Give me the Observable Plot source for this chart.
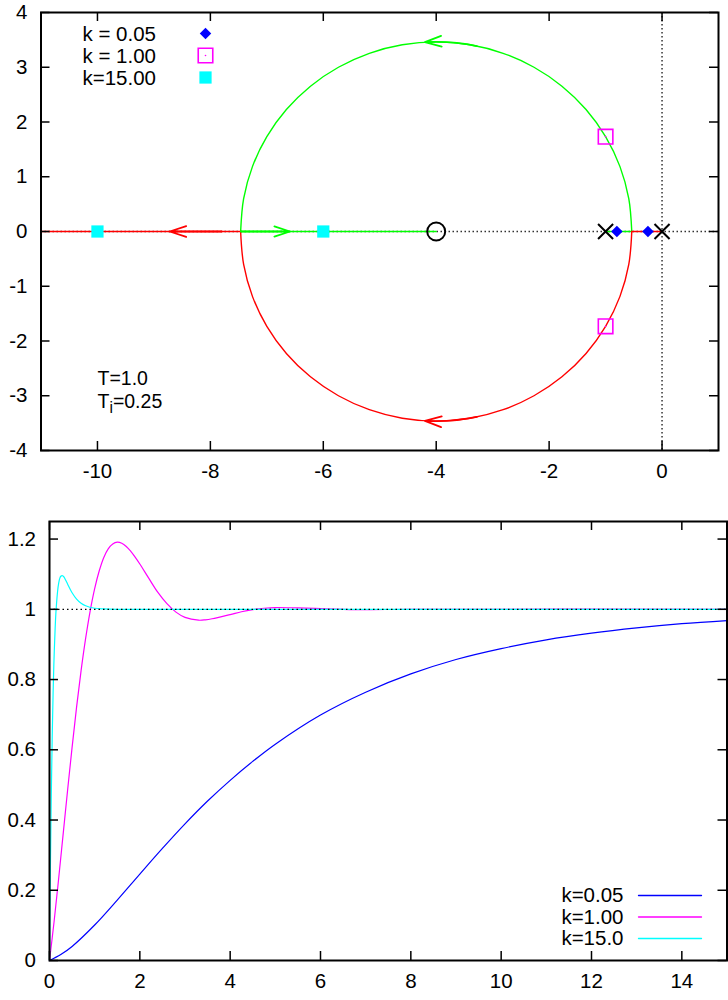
<!DOCTYPE html>
<html>
<head>
<meta charset="utf-8">
<script src="https://cdn.jsdelivr.net/npm/d3@7"></script>
<script src="https://cdn.jsdelivr.net/npm/@observablehq/plot@0.6"></script>
<style>
  html, body { margin: 0; padding: 0; background: #ffffff; }
  #chart svg { display: block; }
</style>
</head>
<body>
<div id="chart"></div>
<script>
// ================= DATA =================
// --- root locus (top panel) ---
const xTicksLocus = [-10, -8, -6, -4, -2, 0];
const yTicksLocus = [-4, -3, -2, -1, 0, 1, 2, 3, 4];

const poleRe = [-1, 0];
const poleIm = [0, 0];
const zeroRe = [-4];
const zeroIm = [0];

const kLabelsLocus = ["k = 0.05", "k = 1.00", "k=15.00"];
const rootsReK005 = [-0.8, -0.25];
const rootsImK005 = [0, 0];
const rootsReK1 = [-1, -1];
const rootsImK1 = [1.732, -1.732];
const rootsReK15 = [-10, -6];
const rootsImK15 = [0, 0];

// complex part of the locus (circle), right breakaway -> left breakaway
const arcRe = [-0.536, -0.589, -0.745, -1.000, -1.346, -1.773, -2.268, -2.815, -3.399, -4.000,
               -4.601, -5.185, -5.732, -6.227, -6.654, -7.000, -7.255, -7.411, -7.464];
const arcImUpper = [0, 0.601, 1.185, 1.732, 2.227, 2.654, 3.000, 3.255, 3.411, 3.464,
                    3.411, 3.255, 3.000, 2.654, 2.227, 1.732, 1.185, 0.601, 0];
const arcImLower = [0, -0.601, -1.185, -1.732, -2.227, -2.654, -3.000, -3.255, -3.411, -3.464,
                    -3.411, -3.255, -3.000, -2.654, -2.227, -1.732, -1.185, -0.601, 0];
// real-axis parts of the two branches
const greenRealA = [-1, -0.536];
const greenRealB = [-7.464, -4];
const redRealA = [0, -0.536];
const redRealB = [-7.464, -11];

// direction arrows on the branches
const arrowBranch = ["green", "green", "red", "red"];
const arrowFromRe = [-3.28, -7.46, -3.28, -7.8];
const arrowFromIm = [3.388, 0, -3.388, 0];
const arrowToRe = [-4.2, -6.59, -4.2, -8.72];
const arrowToIm = [3.458, 0, -3.458, 0];
const arrowBend = [-7.6, 0, 7.6, 0];

const paramLabels = ["T=1.0", "T_i=0.25"];

// --- step responses (bottom panel) ---
const xTicksStep = [0, 2, 4, 6, 8, 10, 12, 14];
const yTicksStep = [0, 0.2, 0.4, 0.6, 0.8, 1, 1.2];
const stepLabels = ["k=0.05", "k=1.00", "k=15.0"];

const tK005 = [0, 0.25, 0.5, 1, 1.5, 2, 2.5, 3, 3.5, 4, 4.5, 5, 6, 7, 8, 9, 10, 11, 12, 13, 14, 15];
const yK005 = [0, 0.017, 0.040, 0.101, 0.172, 0.246, 0.319, 0.389, 0.454, 0.513, 0.567, 0.616, 0.699,
               0.764, 0.816, 0.857, 0.888, 0.913, 0.932, 0.947, 0.959, 0.968];

const tK1 = [0, 0.1, 0.2, 0.3, 0.4, 0.5, 0.6, 0.7, 0.8, 0.9, 1.0, 1.1, 1.2, 1.3, 1.4, 1.5, 1.6, 1.7,
             1.8, 1.9, 2.0, 2.2, 2.4, 2.6, 2.8, 3.0, 3.3, 3.45, 3.6, 4.0, 4.25, 4.5, 4.75, 5.0, 5.5,
             6.0, 6.5, 7.0, 8.0, 15];
const yK1 = [0, 0.109, 0.230, 0.357, 0.484, 0.607, 0.722, 0.826, 0.917, 0.995, 1.059, 1.109, 1.147,
             1.172, 1.186, 1.191, 1.188, 1.179, 1.165, 1.148, 1.129, 1.088, 1.048, 1.016, 0.992,
             0.977, 0.969, 0.970, 0.973, 0.985, 0.993, 0.999, 1.003, 1.005, 1.004, 1.002, 1.000,
             0.999, 1.000, 1.000];

const tK15 = [0, 0.01, 0.02, 0.04, 0.06, 0.08, 0.1, 0.125, 0.15, 0.2, 0.25, 0.3, 0.35, 0.4, 0.5,
              0.6, 0.7, 0.8, 1.0, 1.2, 1.5, 2, 15];
const yK15 = [0, 0.142, 0.267, 0.475, 0.637, 0.763, 0.858, 0.946, 1.006, 1.072, 1.094, 1.095, 1.085,
              1.072, 1.047, 1.029, 1.017, 1.010, 1.003, 1.001, 1.000, 1.000, 1.000];

const referenceLevel = [1];

// ================= STYLE =================
const BLUE = "#0000ff", MAGENTA = "#ff00ff", CYAN = "#00ffff", GREEN = "#00ff00", RED = "#ff0000";
const FONT = "'Liberation Sans', Arial, Helvetica, sans-serif";
const W = 728;
const TICK = 9;
const tickFontSize = 20.5;
const legendFontSize = 20.5;

function rows(xs, ys, extra) { return xs.map((x, i) => ({x, y: ys[i], ...extra})); }

function inwardTicks(xt, yt, fw, fh) {
  const o = {stroke: "black", strokeWidth: 1.5};
  return [
    Plot.ruleX(xt, {x: d => d, insetTop: fh - TICK, ...o}),
    Plot.ruleX(xt, {x: d => d, insetBottom: fh - TICK, ...o}),
    Plot.ruleY(yt, {y: d => d, insetRight: fw - TICK, ...o}),
    Plot.ruleY(yt, {y: d => d, insetLeft: fw - TICK, ...o})
  ];
}
function axisLabels(xt, yt) {
  return [
    Plot.axisX(xt, {anchor: "bottom", tickSize: 0, tickPadding: 12.5, tickFormat: d => String(d),
                    fontSize: tickFontSize, label: null, fill: "black"}),
    Plot.axisY(yt, {anchor: "left", tickSize: 0, tickPadding: 13.5, tickFormat: d => String(d),
                    fontSize: tickFontSize, label: null, fill: "black"})
  ];
}

// ================= TOP: root locus =================
const topM = {top: 12, right: 10, bottom: 40, left: 40.5};
const topH = 490;
const topFW = W - topM.left - topM.right, topFH = topH - topM.top - topM.bottom;

const greenRows = [
  ...rows(greenRealA, [0, 0], {id: "g1"}),
  ...rows(arcRe, arcImUpper, {id: "g2"}),
  ...rows(greenRealB, [0, 0], {id: "g3"})
];
const redRows = [
  ...rows(redRealA, [0, 0], {id: "r1"}),
  ...rows(arcRe, arcImLower, {id: "r2"}),
  ...rows(redRealB, [0, 0], {id: "r3"})
];
const arrowRows = arrowBranch.map((b, i) => ({
  x1: arrowFromRe[i], y1: arrowFromIm[i], x2: arrowToRe[i], y2: arrowToIm[i],
  color: b === "green" ? GREEN : RED, bend: arrowBend[i]
}));

const legendTop = [
  {mark: o => Plot.dot(["a"], {...o, symbol: "diamond2", r: 5.2, fill: BLUE})},
  {mark: o => [Plot.dot(["a"], {...o, symbol: "square", r: 8.2, stroke: MAGENTA, strokeWidth: 1.6, fill: "none"}),
               Plot.dot(["a"], {...o, symbol: "circle", r: 0.8, fill: MAGENTA})]},
  {mark: o => Plot.dot(["a"], {...o, symbol: "square", r: 6.9, fill: CYAN})}
];

const topPlot = Plot.plot({
  width: W, height: topH,
  marginTop: topM.top, marginRight: topM.right, marginBottom: topM.bottom, marginLeft: topM.left,
  style: {fontFamily: FONT, fontSize: tickFontSize + "px", background: "white", color: "black"},
  x: {domain: [-11, 1], label: null},
  y: {domain: [-4, 4], label: null},
  marks: [
    Plot.ruleY([0], {stroke: "#333", strokeWidth: 1.5, strokeDasharray: "1.5,2.5"}),
    Plot.ruleX([0], {stroke: "#333", strokeWidth: 1.5, strokeDasharray: "1.5,2.5"}),
    Plot.line(greenRows, {x: "x", y: "y", z: "id", stroke: GREEN, strokeWidth: 1.4, curve: "catmull-rom"}),
    Plot.line(redRows, {x: "x", y: "y", z: "id", stroke: RED, strokeWidth: 1.4, curve: "catmull-rom"}),
    ...arrowRows.map(a => Plot.arrow([a], {x1: "x1", y1: "y1", x2: "x2", y2: "y2", stroke: a.color,
      strokeWidth: 1.8, headLength: 15, headAngle: 36, bend: a.bend})),
    Plot.dot(rows(poleRe, poleIm), {x: "x", y: "y", symbol: "times", r: 6.9, stroke: "black", strokeWidth: 2}),
    Plot.dot(rows(zeroRe, zeroIm), {x: "x", y: "y", symbol: "circle", r: 9, stroke: "black", strokeWidth: 2, fill: "none"}),
    Plot.dot(rows(rootsReK005, rootsImK005), {x: "x", y: "y", symbol: "diamond2", r: 5.2, fill: BLUE}),
    Plot.dot(rows(rootsReK1, rootsImK1), {x: "x", y: "y", symbol: "square", r: 8.2, stroke: MAGENTA, strokeWidth: 1.6, fill: "none"}),
    Plot.dot(rows(rootsReK1, rootsImK1), {x: "x", y: "y", symbol: "circle", r: 0.8, fill: MAGENTA}),
    Plot.dot(rows(rootsReK15, rootsImK15), {x: "x", y: "y", symbol: "square", r: 6.9, fill: CYAN}),
    // legend
    ...kLabelsLocus.map((label, i) => Plot.text([label], {text: d => d, frameAnchor: "top-left",
      dx: 41.5, dy: 21.5 + 22 * i, textAnchor: "start", lineAnchor: "middle", fontSize: legendFontSize, fill: "black"})),
    ...legendTop.flatMap((e, i) => [].concat(e.mark({frameAnchor: "top-left", dx: 164.5, dy: 21 + 22 * i}))),
    // parameters
    ...paramLabels.map((label, i) => Plot.text([label], {text: d => d, frameAnchor: "bottom-left",
      dx: 56.5, dy: -71.5 + 22.5 * i, textAnchor: "start", lineAnchor: "middle", fontSize: 19.5, fill: "black"})),
    ...inwardTicks(xTicksLocus, yTicksLocus, topFW, topFH),
    ...axisLabels(xTicksLocus, yTicksLocus),
    Plot.frame({stroke: "black", strokeWidth: 2})
  ]
});

// ================= BOTTOM: step responses =================
const botM = {top: 31, right: 1.5, bottom: 40, left: 49};
const botH = 510;
const botFW = W - botM.left - botM.right, botFH = botH - botM.top - botM.bottom;
const stepColors = [BLUE, MAGENTA, CYAN];
const stepRows = [
  ...rows(tK005, yK005, {k: stepLabels[0]}),
  ...rows(tK1, yK1, {k: stepLabels[1]}),
  ...rows(tK15, yK15, {k: stepLabels[2]})
];
const lineShape = {draw(context, l) { context.moveTo(0, 0); context.lineTo(0, -l); }};

const botPlot = Plot.plot({
  width: W, height: botH,
  marginTop: botM.top, marginRight: botM.right, marginBottom: botM.bottom, marginLeft: botM.left,
  style: {fontFamily: FONT, fontSize: tickFontSize + "px", background: "white", color: "black"},
  x: {domain: [0, 15], label: null},
  y: {domain: [0, 1.25], label: null},
  color: {domain: stepLabels, range: stepColors},
  marks: [
    Plot.line(stepRows, {x: "x", y: "y", z: "k", stroke: "k", strokeWidth: 1.2, curve: "catmull-rom"}),
    Plot.ruleY(referenceLevel, {stroke: "black", strokeWidth: 1.3, strokeDasharray: "1.5,3"}),
    // legend
    ...stepLabels.map((label, i) => Plot.text([label], {text: d => d, frameAnchor: "bottom-right",
      dx: -103.5, dy: -65 + 21.5 * i, textAnchor: "end", lineAnchor: "middle", fontSize: legendFontSize, fill: "black"})),
    ...stepLabels.map((label, i) => Plot.vector([label], {frameAnchor: "bottom-right",
      dx: -88.5, dy: -65 + 21.5 * i, length: 63, rotate: 90, anchor: "start", shape: lineShape,
      stroke: stepColors[i], strokeWidth: 1.3})),
    ...inwardTicks(xTicksStep, yTicksStep, botFW, botFH),
    ...axisLabels(xTicksStep, yTicksStep),
    Plot.frame({stroke: "black", strokeWidth: 2})
  ]
});

// subscripts written as "_x" become real subscript tspans
function applySubscripts(svg) {
  d3.select(svg).selectAll("text").each(function () {
    const t = this.textContent;
    const m = t.match(/^(.*)_(\w)(.*)$/);
    if (!m || this.children.length) return;
    const sel = d3.select(this);
    sel.text(null);
    sel.append("tspan").text(m[1]);
    sel.append("tspan").attr("dy", "0.35em").attr("font-size", "0.8em").text(m[2]);
    sel.append("tspan").attr("dy", "-0.28em").text(m[3]);
  });
}
applySubscripts(topPlot);

const chart = document.getElementById("chart");
chart.appendChild(topPlot);
chart.appendChild(botPlot);
</script>
</body>
</html>
